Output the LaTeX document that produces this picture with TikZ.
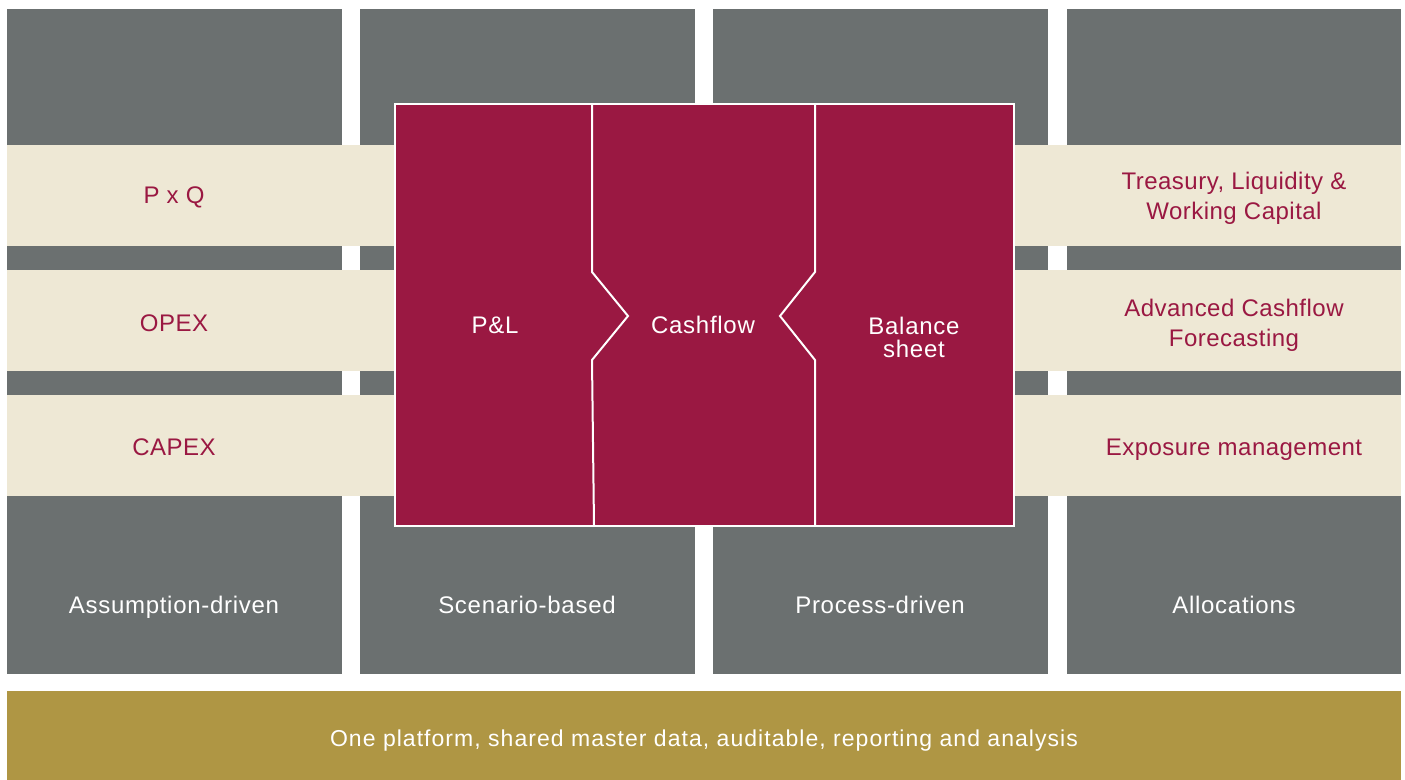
\documentclass[tikz,border=0pt]{standalone}
\usepackage{fontspec}
\setmainfont{Liberation Sans}
\definecolor{slate}{HTML}{6B7070}
\definecolor{sand}{HTML}{EEE8D5}
\definecolor{wine}{HTML}{9A1842}
\definecolor{ochre}{HTML}{AF9644}
\tikzset{
  colbox/.style={fill=slate},
  bandbox/.style={fill=sand},
  winetext/.style={text=wine, align=center, text height=1.5ex, text depth=.3ex,
    font=\fontsize{12}{15}\selectfont\addfontfeature{LetterSpace=2}},
  lighttext/.style={text=white, align=center, text height=1.5ex, text depth=.3ex,
    font=\fontsize{12}{11.5}\selectfont\addfontfeature{LetterSpace=3}}
}
\begin{document}
\begin{tikzpicture}[x=0.5pt,y=-0.5pt]
  \useasboundingbox (0,0) rectangle (1405,780);
  % grey columns
  \foreach \a/\b in {7/342,360/695,713/1048,1067/1401}
    \fill[slate] (\a,9) rectangle (\b,674);
  % sand bands
  \foreach \t/\u in {145/246,270/371,395/496}
    \fill[sand] (7,\t) rectangle (1401,\u);
  % bottom bar
  \fill[ochre] (7,691) rectangle (1401,780);
  % the block in the middle
  \draw[white, line width=1pt, fill=wine] (395,104) rectangle (1014,526);
  \draw[white, line width=1pt] (592,105) -- (592,272) -- (628,316) -- (592,360) -- (594,525);
  \draw[white, line width=1pt] (815,105) -- (815,272) -- (780,316) -- (815,360) -- (815,525);
  \node[lighttext] (pl) at (495,327) {P\&L};
  \node[lighttext] (cash) at (703,327) {Cashflow};
  \node[lighttext] (bal) at (914,351) {Balance\\sheet};
  % left labels
  \node[winetext] (pxq) at (174,197) {P x Q};
  \node[winetext] (opex) at (174,325) {OPEX};
  \node[winetext] (capex) at (174,449) {CAPEX};
  % right labels
  \node[winetext] (treas) at (1234,213) {Treasury, Liquidity \&\\Working Capital};
  \node[winetext] (adv) at (1234,340) {Advanced Cashflow\\Forecasting};
  \node[winetext] (expo) at (1234,449) {Exposure management};
  % column labels
  \node[lighttext] (assum) at (174,607) {Assumption-driven};
  \node[lighttext] (scen) at (527,607) {Scenario-based};
  \node[lighttext] (proc) at (880,607) {Process-driven};
  \node[lighttext] (alloc) at (1234,607) {Allocations};
  \node[lighttext, font=\fontsize{11.5}{12}\selectfont\addfontfeature{LetterSpace=4.5}] (platf) at (704,740) {One platform, shared master data, auditable, reporting and analysis};
\end{tikzpicture}
\end{document}
